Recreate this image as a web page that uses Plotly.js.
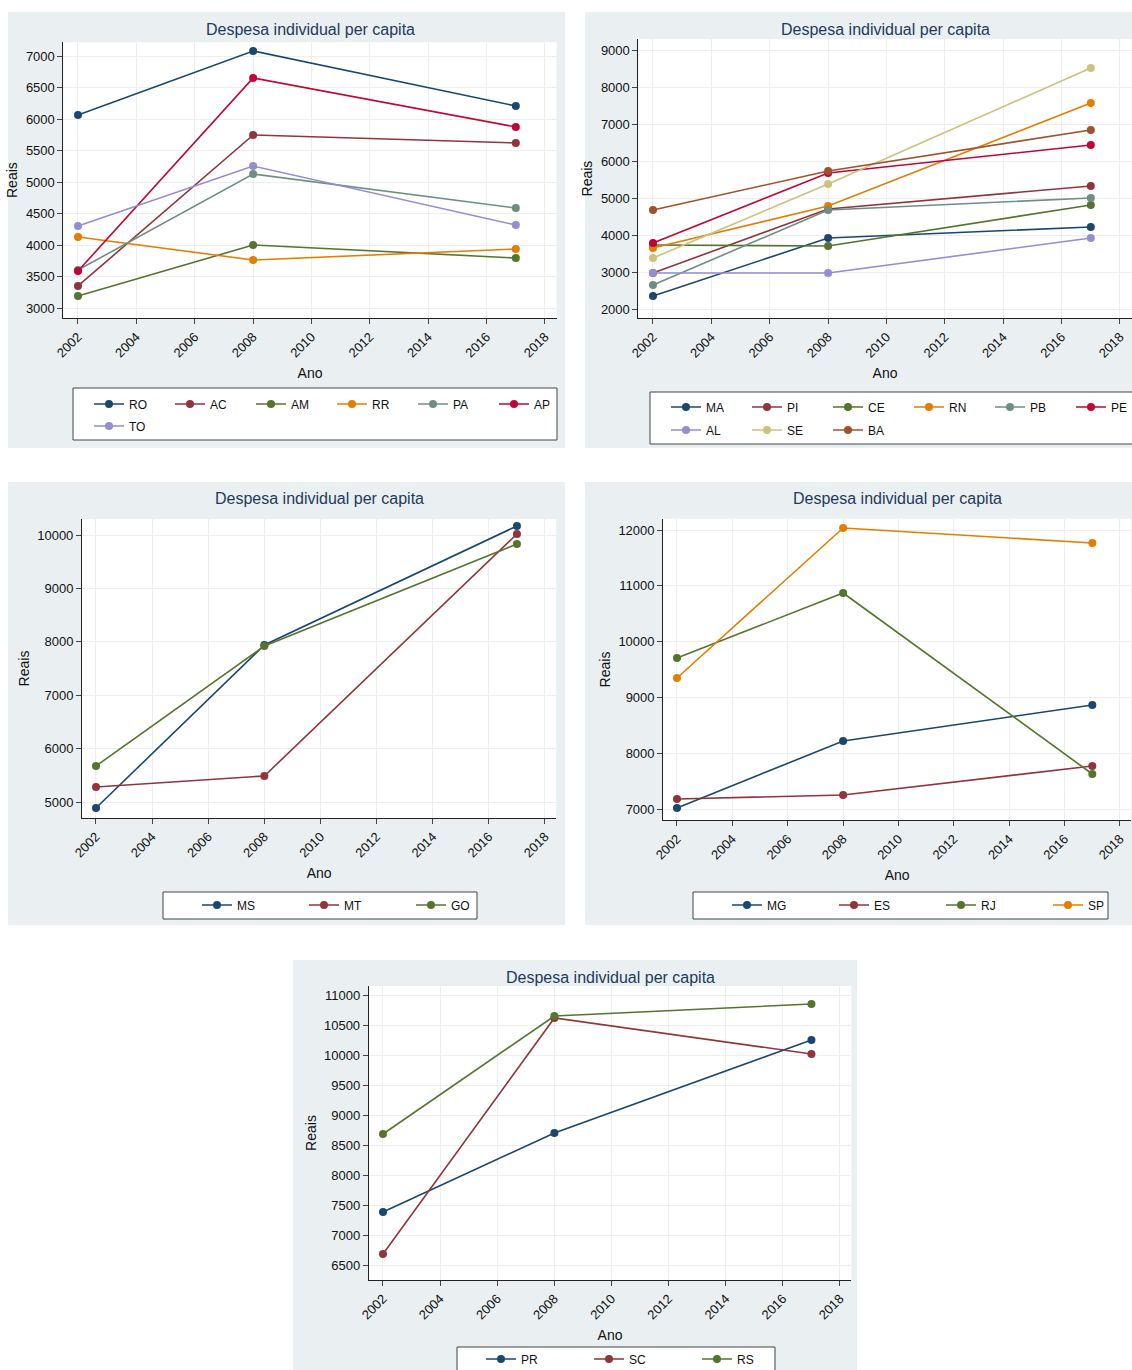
<!DOCTYPE html>
<html><head><meta charset="utf-8">
<script src="https://cdn.plot.ly/plotly-3.0.1.min.js"></script>
<style>body{margin:0}#c{width:1132px;height:1370px}</style></head>
<body><div id="c"></div>
<script>
const years=[2002,2008,2017];
// Panel 1 (North)
const RO=[6063,7080,6206], AC=[3350,5746,5619], AM=[3190,4000,3794], RR=[4127,3762,3937], PA=[3603,5127,4587], AP=[3587,6651,5873], TO=[4302,5254,4317];
// Panel 2 (Northeast)
const MA=[2351,3919,4216], PI=[2973,4703,5324], CE=[3730,3703,4811], RN=[3649,4784,7568], PB=[2649,4676,5000], PE=[3784,5676,6432], AL=[2973,2973,3919], SE=[3378,5378,8514], BA=[4676,5730,6838];
// Panel 3 (Center-West)
const MS=[4888,7940,10169], MT=[5281,5487,10019], GO=[5674,7921,9831];
// Panel 4 (Southeast)
const MG=[7018,8219,8864], ES=[7179,7251,7771], RJ=[9706,10871,7627], SP=[9348,12036,11767];
// Panel 5 (South)
const PR=[7383,8700,10250], SC=[6683,10617,10017], RS=[8683,10650,10850];

const C={navy:'#1a476f',maroon:'#90353b',green:'#55752f',orange:'#e37e00',teal:'#6e8e84',cran:'#c10534',lav:'#938dd2',khaki:'#cac27e',sienna:'#a0522d'};
const W=1132,H=1370;
function dom(v0,p0,v1,p1,r0,r1,isY){const k=(p1-p0)/(v1-v0);let a=p0+(r0-v0)*k,b=p0+(r1-v0)*k;
 if(isY){return [1-a/H,1-b/H];}return [a/W,b/W];}
const panels=[
 {bg:[8,12,565,448],x:[2002,78,2018,545],y:[3000,308,7000,56],yr:[2840,7220],yt:500,box:[73,388,557,440],lx:89,rows:[404,426],per:6,ew:36,
  s:[['RO',RO,C.navy],['AC',AC,C.maroon],['AM',AM,C.green],['RR',RR,C.orange],['PA',PA,C.teal],['AP',AP,C.cran],['TO',TO,C.lav]]},
 {bg:[585,12,1132,448],x:[2002,653,2018,1120],y:[2000,309,9000,50],yr:[1750,9300],yt:1000,box:[650,392,1140,444],lx:666,rows:[407,430],per:6,ew:36,
  s:[['MA',MA,C.navy],['PI',PI,C.maroon],['CE',CE,C.green],['RN',RN,C.orange],['PB',PB,C.teal],['PE',PE,C.cran],['AL',AL,C.lav],['SE',SE,C.khaki],['BA',BA,C.sienna]]},
 {bg:[8,482,565,925],x:[2002,96,2018,545],y:[5000,802,10000,535],yr:[4700,10300],yt:1000,box:[163,892,477,919],lx:197,rows:[905],per:3,ew:62,
  s:[['MS',MS,C.navy],['MT',MT,C.maroon],['GO',GO,C.green]]},
 {bg:[585,482,1132,925],x:[2002,677,2018,1120],y:[7000,809,12000,530],yr:[6800,12200],yt:1000,box:[693,892,1108,919],lx:727,rows:[905],per:4,ew:62,
  s:[['MG',MG,C.navy],['ES',ES,C.maroon],['RJ',RJ,C.green],['SP',SP,C.orange]]},
 {bg:[293,960,857,1370],x:[2002,383,2018,840],y:[6500,1265,11000,995],yr:[6250,11150],yt:500,box:[457,1347,775,1375],lx:481,rows:[1359],per:3,ew:63,
  s:[['PR',PR,C.navy],['SC',SC,C.maroon],['RS',RS,C.green]]}
];
const data=[],shapes=[],ann=[],layout={width:W,height:H,margin:{l:0,r:0,t:0,b:0,autoexpand:false},paper_bgcolor:'white',plot_bgcolor:'rgba(0,0,0,0)',
 font:{family:'Liberation Sans, Arial, sans-serif',size:13,color:'#111'},shapes:shapes,annotations:ann};
const xr=[2001.5,2018.4];
let lgCount=0;
panels.forEach((p,i)=>{
 const n=i+1, xa='xaxis'+(n>1?n:''), ya='yaxis'+(n>1?n:'');
 const xd=dom(p.x[0],p.x[1],p.x[2],p.x[3],xr[0],xr[1],false);
 const yd=dom(p.y[0],p.y[1],p.y[2],p.y[3],p.yr[0],p.yr[1],true);
 shapes.push({type:'rect',xref:'paper',yref:'paper',x0:p.bg[0]/W,x1:p.bg[2]/W,y0:1-p.bg[1]/H,y1:1-p.bg[3]/H,fillcolor:'#eaf0f2',line:{width:0},layer:'below'});
 shapes.push({type:'rect',xref:'paper',yref:'paper',x0:xd[0],x1:xd[1],y0:yd[0],y1:yd[1],fillcolor:'white',line:{width:0},layer:'below'});
 shapes.push({type:'rect',xref:'paper',yref:'paper',x0:p.box[0]/W,x1:p.box[2]/W,y0:1-p.box[1]/H,y1:1-p.box[3]/H,fillcolor:'white',line:{width:1,color:'#444'},layer:'below'});
 layout[xa]={domain:xd,range:xr,anchor:'y'+(n>1?n:''),tickvals:[2002,2004,2006,2008,2010,2012,2014,2016,2018],tickangle:-45,
  showgrid:true,gridcolor:'#eeeeee',zeroline:false,showline:true,linecolor:'#222',ticks:'outside',ticklen:5,automargin:false,
  title:{text:'Ano',font:{size:14},standoff:8},tickfont:{size:13}};
 layout[ya]={domain:yd,range:p.yr,anchor:'x'+(n>1?n:''),dtick:p.yt,tick0:0,tickformat:'d',showgrid:true,gridcolor:'#eeeeee',zeroline:false,automargin:false,
  showline:true,linecolor:'#222',ticks:'outside',ticklen:5,title:{text:'Reais',font:{size:14},standoff:4},tickfont:{size:13}};
 ann.push({xref:'paper',yref:'paper',x:(xd[0]+xd[1])/2,y:1-(p.bg[1]+17)/H,text:'Despesa individual per capita',showarrow:false,
  xanchor:'center',font:{size:16,color:'#1e3a5a'},yanchor:'middle'});
 const rowLg=p.rows.map((ry,r)=>{lgCount++;const name='legend'+(lgCount>1?lgCount:'');
  layout[name]={x:p.lx/W,y:1-ry/H,xanchor:'left',yanchor:'middle',orientation:'h',bgcolor:'rgba(0,0,0,0)',borderwidth:0,
   entrywidth:p.ew,entrywidthmode:'pixels',font:{size:12},itemclick:false};return name;});
 p.s.forEach((s,j)=>data.push({x:years,y:s[1],name:s[0],type:'scatter',mode:'lines+markers',xaxis:'x'+(n>1?n:''),yaxis:'y'+(n>1?n:''),
  legend:rowLg[Math.floor(j/p.per)],line:{color:s[2],width:1.6},marker:{color:s[2],size:8}}));
});
Plotly.newPlot('c',data,layout,{displayModeBar:false,staticPlot:true});
</script></body></html>
